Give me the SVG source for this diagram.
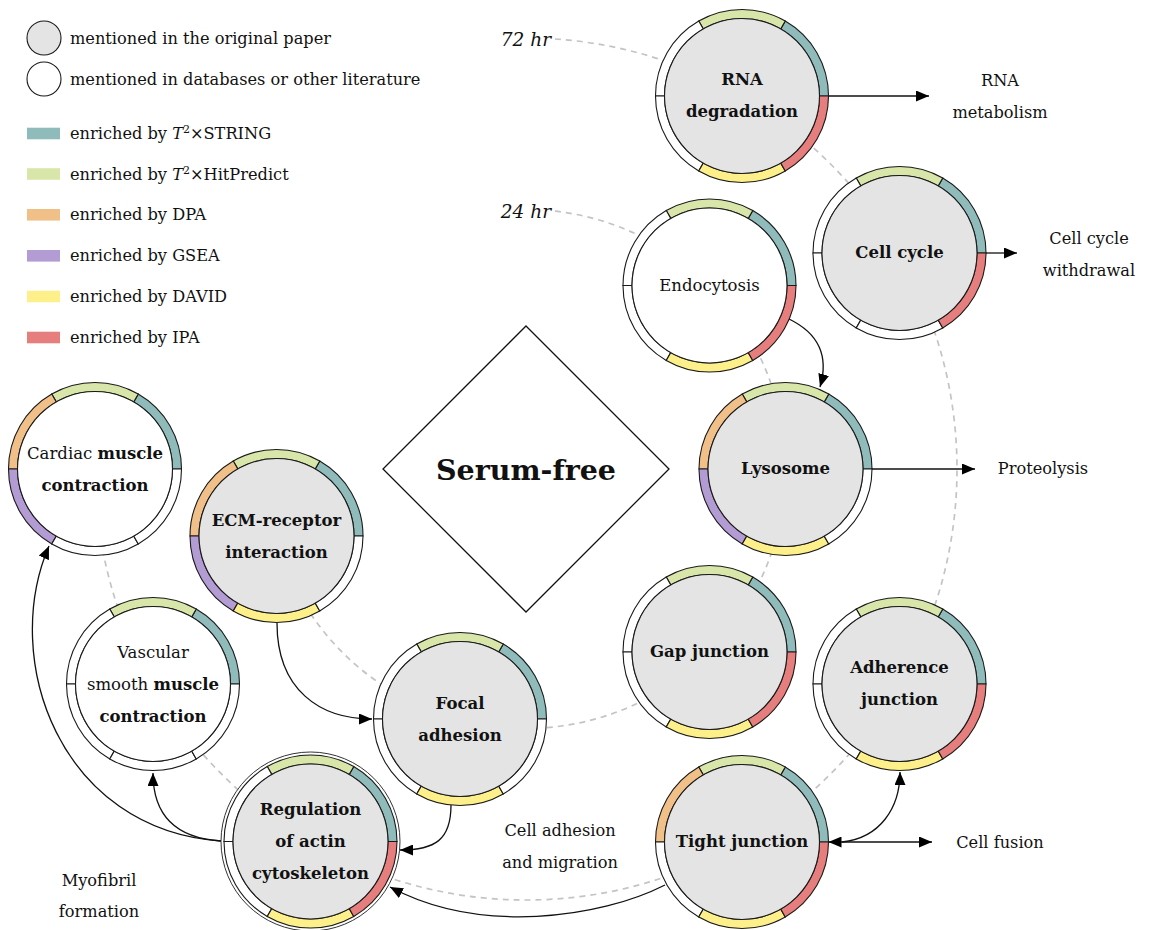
<svg xmlns="http://www.w3.org/2000/svg" width="1150" height="930" viewBox="0 0 1150 930">
  <style>
    text { font-family: "DejaVu Serif", "Liberation Serif", serif; fill: #111; }
    .t { font-size: 16.2px; }
    .nl { font-size: 16.5px; text-anchor: middle; }
    .c { text-anchor: middle; }
    .b { font-weight: bold; }
    .sec { stroke: #1a1a1a; stroke-width: 1.1; }
    .w { fill: #ffffff; }
    .c-string { fill: #8fbcbb; }
    .c-hit { fill: #d9e6a9; }
    .c-dpa { fill: #f1c089; }
    .c-gsea { fill: #b39bd3; }
    .c-david { fill: #fdf08a; }
    .c-ipa { fill: #e57e7c; }
    .core { stroke: #1a1a1a; stroke-width: 1.1; }
    .gray { fill: #e4e4e4; }
    .white { fill: #ffffff; }
    .dash { fill: none; stroke: #c4c4c4; stroke-width: 1.7; stroke-dasharray: 6 5; }
    .arr { fill: none; stroke: #111; stroke-width: 1.3; }
  </style>
  <defs>
    <!-- six 60-degree ring sectors, counter-clockwise from east -->
    <path id="s0" d="M86.5 0 A86.5 86.5 0 0 0 43.25 -74.91 L38.75 -67.12 A77.5 77.5 0 0 1 77.5 0 Z"/>
    <path id="s1" d="M43.25 -74.91 A86.5 86.5 0 0 0 -43.25 -74.91 L-38.75 -67.12 A77.5 77.5 0 0 1 38.75 -67.12 Z"/>
    <path id="s2" d="M-43.25 -74.91 A86.5 86.5 0 0 0 -86.5 0 L-77.5 0 A77.5 77.5 0 0 1 -38.75 -67.12 Z"/>
    <path id="s3" d="M-86.5 0 A86.5 86.5 0 0 0 -43.25 74.91 L-38.75 67.12 A77.5 77.5 0 0 1 -77.5 0 Z"/>
    <path id="s4" d="M-43.25 74.91 A86.5 86.5 0 0 0 43.25 74.91 L38.75 67.12 A77.5 77.5 0 0 1 -38.75 67.12 Z"/>
    <path id="s5" d="M43.25 74.91 A86.5 86.5 0 0 0 86.5 0 L77.5 0 A77.5 77.5 0 0 1 38.75 67.12 Z"/>
    <marker id="ah" markerWidth="13" markerHeight="11" refX="13" refY="5.5" orient="auto-start-reverse" markerUnits="userSpaceOnUse">
      <path d="M0,0 L13,5.5 L0,11 Z" fill="#000"/>
    </marker>
  </defs>

  <rect width="1150" height="930" fill="#ffffff"/>

  <!-- legend -->
  <g id="legend">
    <circle cx="44" cy="38" r="17" class="core gray" stroke="#444"/>
    <text class="t" x="70" y="43.5">mentioned in the original paper</text>
    <circle cx="44" cy="79" r="17" class="core white" stroke="#444"/>
    <text class="t" x="70" y="85">mentioned in databases or other literature</text>
    <rect x="27" y="127.7" width="33" height="11.6" class="c-string"/>
    <text class="t" x="70" y="139">enriched by <tspan font-style="italic">T</tspan><tspan font-size="11" dy="-6">2</tspan><tspan dy="6">×STRING</tspan></text>
    <rect x="27" y="168.2" width="33" height="11.6" class="c-hit"/>
    <text class="t" x="70" y="180">enriched by <tspan font-style="italic">T</tspan><tspan font-size="11" dy="-6">2</tspan><tspan dy="6">×HitPredict</tspan></text>
    <rect x="27" y="209" width="33" height="11.6" class="c-dpa"/>
    <text class="t" x="70" y="220">enriched by DPA</text>
    <rect x="27" y="250" width="33" height="11.6" class="c-gsea"/>
    <text class="t" x="70" y="261">enriched by GSEA</text>
    <rect x="27" y="290.7" width="33" height="11.6" class="c-david"/>
    <text class="t" x="70" y="302">enriched by DAVID</text>
    <rect x="27" y="331.7" width="33" height="11.6" class="c-ipa"/>
    <text class="t" x="70" y="343">enriched by IPA</text>
  </g>

  <!-- time-course arcs and arrows -->
  <g id="connectors">
    <path class="dash" d="M555 39 A431 431 0 1 1 95 469"/>
    <path class="dash" d="M555 211.1 A259.5 259.5 0 1 1 275.3 536.2"/>

    <line class="arr" x1="828.5" y1="96" x2="929" y2="96" marker-end="url(#ah)"/>
    <line class="arr" x1="986" y1="253" x2="1017" y2="253" marker-end="url(#ah)"/>
    <line class="arr" x1="872" y1="469" x2="975" y2="469" marker-end="url(#ah)"/>
    <line class="arr" x1="828.5" y1="842" x2="932" y2="842" marker-start="url(#ah)" marker-end="url(#ah)"/>
    <path class="arr" d="M842 842 C880 838 900 808 900 772" marker-end="url(#ah)"/>
    <path class="arr" d="M789 319 C822 335 828 360 820 387" marker-end="url(#ah)"/>
    <path class="arr" d="M277 623 C277 690 320 719 372 719" marker-end="url(#ah)"/>
    <path class="arr" d="M451 805 C451 840 435 850 400 850" marker-end="url(#ah)"/>
    <path class="arr" d="M665 885 C600 918 480 935 390 887" marker-end="url(#ah)"/>
    <path class="arr" d="M221 841 C175 838 153 815 153 773" marker-end="url(#ah)"/>
    <path class="arr" d="M221 841 C60 830 0 660 49 546" marker-end="url(#ah)"/>
  </g>

  <!-- centre -->
  <g id="serum-free">
    <polygon points="526,326 669,469 526,612 383,469" fill="#fff" stroke="#111" stroke-width="1.3"/>
    <text x="526" y="480" class="c b" font-size="28.5">Serum-free</text>
  </g>

  <!-- time labels -->
  <text x="551" y="46" text-anchor="end" font-style="italic" font-size="18.5">72 hr</text>
  <text x="551" y="218" text-anchor="end" font-style="italic" font-size="18.5">24 hr</text>

  <!-- outcome labels -->
  <g id="outcomes">
    <text class="t c" x="1000" y="86">RNA</text>
    <text class="t c" x="1000" y="118">metabolism</text>
    <text class="t c" x="1089" y="244">Cell cycle</text>
    <text class="t c" x="1089" y="276">withdrawal</text>
    <text class="t c" x="1043" y="474">Proteolysis</text>
    <text class="t c" x="1000" y="848">Cell fusion</text>
    <text class="t c" x="560" y="836">Cell adhesion</text>
    <text class="t c" x="560" y="868">and migration</text>
    <text class="t c" x="99" y="886">Myofibril</text>
    <text class="t c" x="99" y="917">formation</text>
  </g>

  <!-- pathway nodes -->
  <g id="rna-degradation" transform="translate(742,96)">
    <use href="#s0" class="sec c-string"/><use href="#s1" class="sec c-hit"/><use href="#s2" class="sec w"/>
    <use href="#s3" class="sec w"/><use href="#s4" class="sec c-david"/><use href="#s5" class="sec c-ipa"/>
    <circle r="77.5" class="core gray"/>
    <text class="nl b" y="-11">RNA</text><text class="nl b" y="21">degradation</text>
  </g>

  <g id="cell-cycle" transform="translate(899.5,253)">
    <use href="#s0" class="sec c-string"/><use href="#s1" class="sec c-hit"/><use href="#s2" class="sec w"/>
    <use href="#s3" class="sec w"/><use href="#s4" class="sec w"/><use href="#s5" class="sec c-ipa"/>
    <circle r="77.5" class="core gray"/>
    <text class="nl b" y="5">Cell cycle</text>
  </g>

  <g id="endocytosis" transform="translate(709.5,285.5)">
    <use href="#s0" class="sec c-string"/><use href="#s1" class="sec c-hit"/><use href="#s2" class="sec w"/>
    <use href="#s3" class="sec w"/><use href="#s4" class="sec c-david"/><use href="#s5" class="sec c-ipa"/>
    <circle r="77.5" class="core white"/>
    <text class="nl" y="5">Endocytosis</text>
  </g>

  <g id="lysosome" transform="translate(785.5,469)">
    <use href="#s0" class="sec c-string"/><use href="#s1" class="sec c-hit"/><use href="#s2" class="sec c-dpa"/>
    <use href="#s3" class="sec c-gsea"/><use href="#s4" class="sec c-david"/><use href="#s5" class="sec w"/>
    <circle r="77.5" class="core gray"/>
    <text class="nl b" y="5">Lysosome</text>
  </g>

  <g id="gap-junction" transform="translate(709.5,652)">
    <use href="#s0" class="sec c-string"/><use href="#s1" class="sec c-hit"/><use href="#s2" class="sec w"/>
    <use href="#s3" class="sec w"/><use href="#s4" class="sec c-david"/><use href="#s5" class="sec c-ipa"/>
    <circle r="77.5" class="core gray"/>
    <text class="nl b" y="5">Gap junction</text>
  </g>

  <g id="adherence-junction" transform="translate(899.5,684)">
    <use href="#s0" class="sec c-string"/><use href="#s1" class="sec c-hit"/><use href="#s2" class="sec w"/>
    <use href="#s3" class="sec w"/><use href="#s4" class="sec c-david"/><use href="#s5" class="sec c-ipa"/>
    <circle r="77.5" class="core gray"/>
    <text class="nl b" y="-11">Adherence</text><text class="nl b" y="21">junction</text>
  </g>

  <g id="tight-junction" transform="translate(742,842)">
    <use href="#s0" class="sec c-string"/><use href="#s1" class="sec c-hit"/><use href="#s2" class="sec c-dpa"/>
    <use href="#s3" class="sec w"/><use href="#s4" class="sec c-david"/><use href="#s5" class="sec c-ipa"/>
    <circle r="77.5" class="core gray"/>
    <text class="nl b" y="5">Tight junction</text>
  </g>

  <g id="regulation-of-actin-cytoskeleton" transform="translate(310.5,841.5)">
    <circle r="89.5" fill="#fff" stroke="#333" stroke-width="1"/>
    <use href="#s0" class="sec c-string"/><use href="#s1" class="sec c-hit"/><use href="#s2" class="sec w"/>
    <use href="#s3" class="sec w"/><use href="#s4" class="sec c-david"/><use href="#s5" class="sec c-ipa"/>
    <circle r="77.5" class="core gray"/>
    <text class="nl b" y="-27">Regulation</text><text class="nl b" y="5">of actin</text><text class="nl b" y="37">cytoskeleton</text>
  </g>

  <g id="focal-adhesion" transform="translate(460,719)">
    <use href="#s0" class="sec c-string"/><use href="#s1" class="sec c-hit"/><use href="#s2" class="sec w"/>
    <use href="#s3" class="sec w"/><use href="#s4" class="sec c-david"/><use href="#s5" class="sec w"/>
    <circle r="77.5" class="core gray"/>
    <text class="nl b" y="-10">Focal</text><text class="nl b" y="22">adhesion</text>
  </g>

  <g id="ecm-receptor-interaction" transform="translate(276.5,536)">
    <use href="#s0" class="sec c-string"/><use href="#s1" class="sec c-hit"/><use href="#s2" class="sec c-dpa"/>
    <use href="#s3" class="sec c-gsea"/><use href="#s4" class="sec c-david"/><use href="#s5" class="sec w"/>
    <circle r="77.5" class="core gray"/>
    <text class="nl b" y="-10">ECM-receptor</text><text class="nl b" y="22">interaction</text>
  </g>

  <g id="cardiac-muscle-contraction" transform="translate(95,469)">
    <use href="#s0" class="sec c-string"/><use href="#s1" class="sec c-hit"/><use href="#s2" class="sec c-dpa"/>
    <use href="#s3" class="sec c-gsea"/><use href="#s4" class="sec w"/><use href="#s5" class="sec w"/>
    <circle r="77.5" class="core white"/>
    <text class="nl" y="-10">Cardiac <tspan class="b">muscle</tspan></text><text class="nl b" y="22">contraction</text>
  </g>

  <g id="vascular-smooth-muscle-contraction" transform="translate(153,684)">
    <use href="#s0" class="sec c-string"/><use href="#s1" class="sec c-hit"/><use href="#s2" class="sec w"/>
    <use href="#s3" class="sec w"/><use href="#s4" class="sec w"/><use href="#s5" class="sec w"/>
    <circle r="77.5" class="core white"/>
    <text class="nl" y="-26">Vascular</text><text class="nl" y="6">smooth <tspan class="b">muscle</tspan></text><text class="nl b" y="38">contraction</text>
  </g>
</svg>
